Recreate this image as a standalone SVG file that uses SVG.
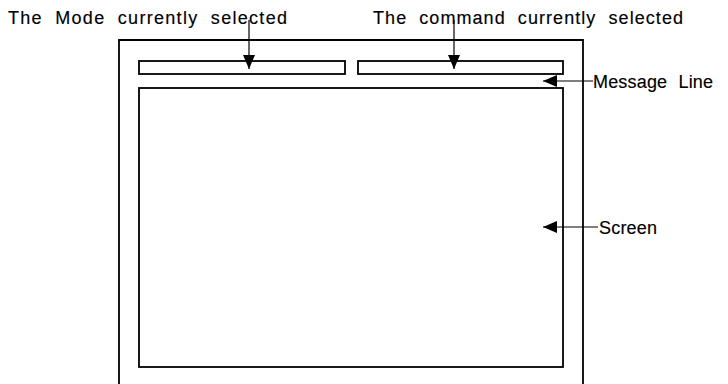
<svg xmlns="http://www.w3.org/2000/svg" width="728" height="384" viewBox="0 0 728 384">
<style>
.box{fill:none;stroke:#000;stroke-width:1.8}
.ln{fill:none;stroke:#000;stroke-width:1.2}
.t{font-family:"Liberation Sans",Arial,sans-serif;font-size:18px;fill:#000;stroke:#000;stroke-width:0.15;word-spacing:6px}
</style>
<defs>
<marker id="ahv" viewBox="0 0 14 12" refX="14" refY="6" markerWidth="14" markerHeight="12" markerUnits="userSpaceOnUse" orient="auto">
<path d="M0,0 L14,6 L0,12 Z" fill="#000"/>
</marker>
</defs>
<rect width="728" height="384" fill="#fff"/>
<g id="frame"><path class="box" d="M119,386 V40 H583 V386"/></g>
<g id="mode-bar"><rect class="box" x="139" y="61" width="206" height="13"/></g>
<g id="command-bar"><rect class="box" x="358" y="61" width="205" height="13"/></g>
<g id="screen"><rect class="box" x="139" y="88" width="424" height="279"/></g>
<g id="labels">
<text class="t" x="8" y="24" textLength="279" lengthAdjust="spacing">The Mode currently selected</text>
<text class="t" x="373" y="24" textLength="310" lengthAdjust="spacing">The command currently selected</text>
<text class="t" x="593" y="88" textLength="120" lengthAdjust="spacing">Message Line</text>
<text class="t" x="599" y="234" textLength="58" lengthAdjust="spacing">Screen</text>
</g>
<g id="connectors">
<line class="ln" x1="249" y1="20" x2="249" y2="69" marker-end="url(#ahv)"/>
<line class="ln" x1="454" y1="20" x2="454" y2="69" marker-end="url(#ahv)"/>
<line class="ln" x1="593" y1="81" x2="543" y2="81" marker-end="url(#ahv)"/>
<line class="ln" x1="598" y1="227" x2="543" y2="227" marker-end="url(#ahv)"/>
</g>
</svg>
